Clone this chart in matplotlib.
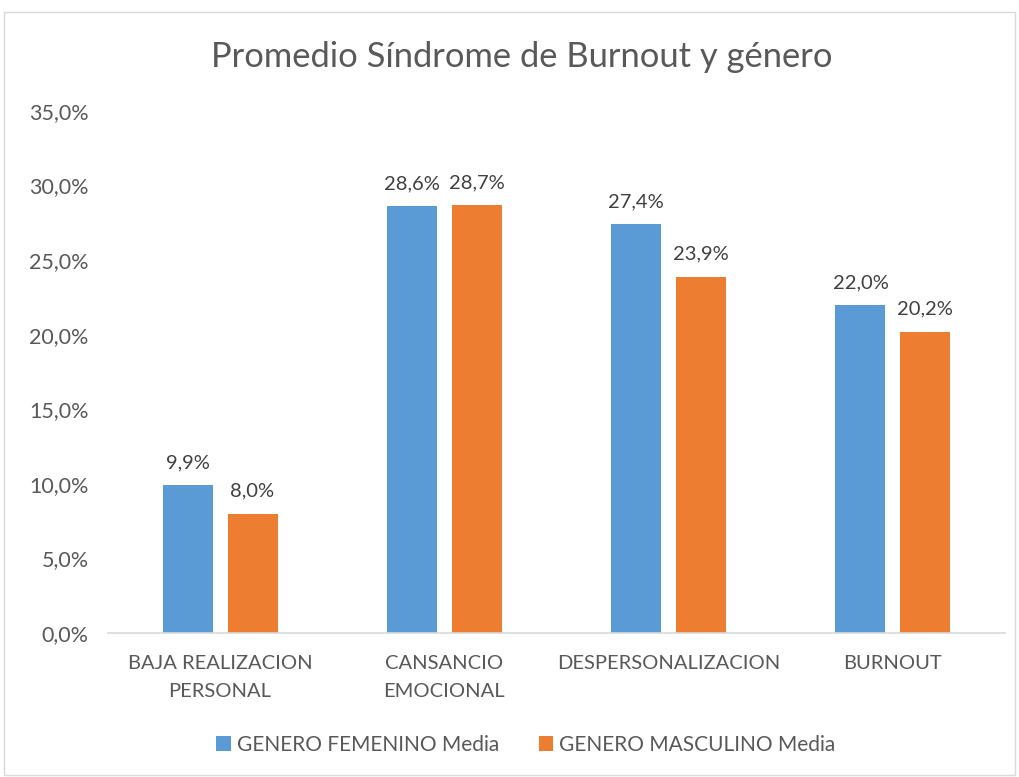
import matplotlib
matplotlib.use("Agg")
import matplotlib.pyplot as plt
import numpy as np
from matplotlib.patches import Rectangle

categories = ["BAJA REALIZACION\nPERSONAL", "CANSANCIO\nEMOCIONAL", "DESPERSONALIZACION", "BURNOUT"]
femenino = [9.9, 28.6, 27.4, 22.0]
masculino = [8.0, 28.7, 23.9, 20.2]
series_names = ["GENERO FEMENINO Media", "GENERO MASCULINO Media"]
yticks = [0, 5, 10, 15, 20, 25, 30, 35]

plt.rcParams['font.family'] = ['Lato', 'DejaVu Sans']
txt = '#595959'

fig = plt.figure(figsize=(10.19, 7.77), dpi=100)
fig.patches.append(Rectangle((4/1019, 2/777), 1011/1019, 763/777, transform=fig.transFigure,
                             fill=False, edgecolor='#d9d9d9', linewidth=1))
ax = fig.add_axes([108/1019, 1-633/777, 897/1019, 522/777])

x = np.arange(len(categories))
w = 0.223
off = 0.1445
b1 = ax.bar(x - off, femenino, w, color='#5b9bd5', label=series_names[0])
b2 = ax.bar(x + off, masculino, w, color='#ed7d31', label=series_names[1])
for bars, vals in ((b1, femenino), (b2, masculino)):
    for r, v in zip(bars, vals):
        ax.annotate(f"{v:.1f}%".replace('.', ','), (r.get_x() + r.get_width()/2, v),
                    xytext=(0, 10), textcoords='offset points', ha='center', va='bottom',
                    fontsize=14.5, color='#404040')

ax.set_xlim(-0.5, 3.5)
ax.set_ylim(0, 35)
ax.set_yticks(yticks)
ax.set_yticklabels([f"{t:.1f}%".replace('.', ',') for t in yticks], fontsize=15.5, color=txt)
ax.set_xticks(x)
ax.set_xticklabels(categories, fontsize=14.5, color=txt, linespacing=1.75)
ax.tick_params(axis='both', length=0)
ax.tick_params(axis='y', pad=14)
ax.tick_params(axis='x', pad=16)
for s in ['top', 'right', 'left']:
    ax.spines[s].set_visible(False)
ax.spines['bottom'].set_color('#d9d9d9')
ax.spines['bottom'].set_linewidth(1.2)

fig.text(0.512, 1-57/777, "Promedio Síndrome de Burnout y género", ha='center', va='center',
         fontsize=24.8, color=txt)
leg = fig.legend(loc='center', bbox_to_anchor=(0.516, 1-745/777), ncol=2, frameon=False,
                 fontsize=15, handlelength=0.7, handleheight=0.7, handletextpad=0.3,
                 columnspacing=1.9)
for t in leg.get_texts():
    t.set_color(txt)

fig.savefig("out.png", dpi=100)
